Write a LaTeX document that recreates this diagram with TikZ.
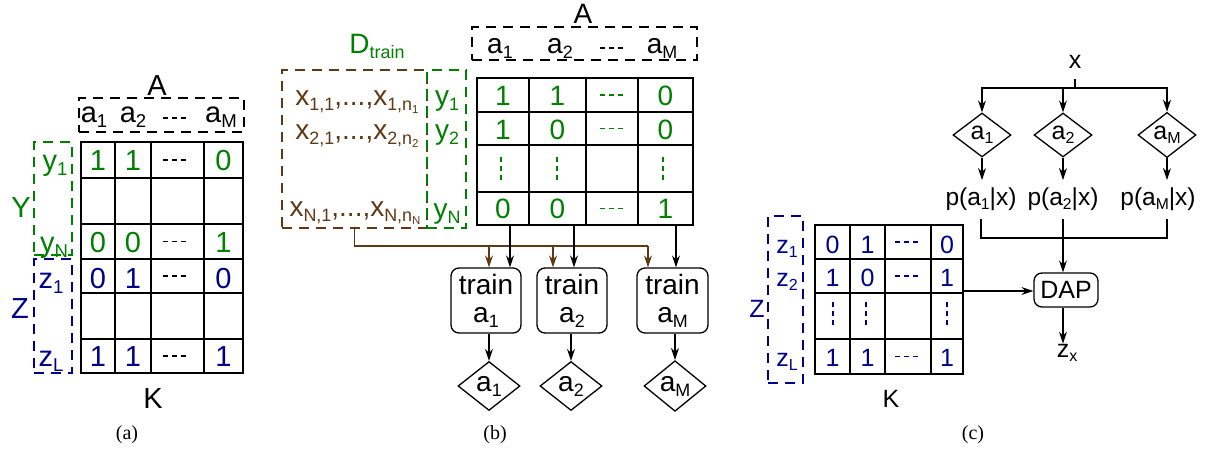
\documentclass[tikz,border=0pt]{standalone}
\usepackage{fontspec}
\setmainfont{Liberation Sans}
\newfontfamily\capfont{Liberation Serif}
\usetikzlibrary{shapes.geometric,arrows.meta}
\definecolor{dgreen}{RGB}{0,128,0}
\definecolor{dblue}{RGB}{0,0,139}
\definecolor{dbrown}{RGB}{96,56,19}
\newcommand{\sizeA}{\fontsize{29}{32}\selectfont}
\newcommand{\sizeB}{\fontsize{28}{28}\selectfont}
\newcommand{\sizeC}{\fontsize{25}{28}\selectfont}
\newcommand{\sizeP}{\fontsize{24.5}{28}\selectfont}
\newcommand{\idx}[1]{\raisebox{-0.18em}{\fontsize{\the\dimexpr0.64\fontdimen6\font\relax}{0pt}\selectfont #1}}
\tikzset{
  lbl/.style={inner sep=0pt, anchor=base},
  dbox/.style={draw, dash pattern=on 10pt off 7pt, line width=1.3pt, inner sep=0pt},
  gridline/.style={line width=2pt},
  ellip/.style={line width=1.5pt, dash pattern=on 5pt off 4pt},
  link/.style={line width=1.3pt},
  conn/.style={link, -{Stealth[length=12pt,width=8pt]}},
  dec/.style={diamond, draw, line width=1.3pt, inner sep=0pt},
  proc/.style={draw, rounded corners=8pt, line width=1.3pt, inner sep=0pt, align=center},
  capt/.style={inner sep=0pt, anchor=base, font=\capfont\fontsize{20}{22}\selectfont}
}

\begin{document}
\begin{tikzpicture}[x=1pt,y=-1pt]
  \useasboundingbox (0,0) rectangle (1215,453);

  % (a)
  \node[lbl, font=\sizeA] (aA) at (157,95) {A};
  \node[dbox, minimum width=165pt, minimum height=34pt] (ahdr) at (161.5,115) {};
  \node[lbl, font=\sizeA] (aa1) at (94,122) {a\idx{1}};
  \node[lbl, font=\sizeA] (aa2) at (133,122) {a\idx{2}};
  \node[lbl, font=\sizeA] (aaM) at (221,122) {a\idx{M}};
  \draw[ellip] (163,118) -- (187,118);

  \draw[gridline] (81,142) rectangle (243,373);
  \foreach \x in {115,151,204} \draw[gridline] (\x,142) -- (\x,373);
  \foreach \y in {178,224,259,293,339} \draw[gridline] (81,\y) -- (243,\y);

  \node[dbox, draw=dgreen, minimum width=38pt, minimum height=113pt] (aybox) at (53,198.5) {};
  \node[dbox, draw=dblue, minimum width=38pt, minimum height=114pt] (azbox) at (53,316) {};
  \node[lbl, font=\sizeA, text=dgreen] (aY) at (21,217) {Y};
  \node[lbl, font=\sizeA, text=dblue] (aZ) at (20,318) {Z};
  \node[lbl, font=\sizeA, text=dgreen] (ay1) at (55,170) {y\idx{1}};
  \node[lbl, font=\sizeA, text=dgreen] (ayN) at (54,252) {y\idx{N}};
  \node[lbl, font=\sizeA, text=dblue] (az1) at (51,288) {z\idx{1}};
  \node[lbl, font=\sizeA, text=dblue] (azL) at (51,366) {z\idx{L}};

  \foreach \v/\x/\n in {1/98/1,1/133/2,0/223.5/M}
    \node[lbl, font=\sizeA, text=dgreen] (ar1\n) at (\x,170) {\v};
  \foreach \v/\x/\n in {0/98/1,0/133/2,1/223.5/M}
    \node[lbl, font=\sizeA, text=dgreen] (arN\n) at (\x,252) {\v};
  \foreach \v/\x/\n in {0/98/1,1/133/2,0/223.5/M}
    \node[lbl, font=\sizeA, text=dblue] (as1\n) at (\x,288) {\v};
  \foreach \v/\x/\n in {1/98/1,1/133/2,1/223.5/M}
    \node[lbl, font=\sizeA, text=dblue] (asL\n) at (\x,366) {\v};
  \foreach \y in {160,241.5,276,356} \draw[ellip] (163,\y) -- (187,\y);

  \node[lbl, font=\sizeA] (aK) at (153,408) {K};
  \node[capt] (capa) at (127,439) {(a)};

  % (b)
  \node[lbl, font=\sizeB] (bA) at (583,23) {A};
  \node[dbox, minimum width=225pt, minimum height=33pt] (bhdr) at (584.5,43.5) {};
  \node[lbl, font=\sizeB] (ba1) at (500,53) {a\idx{1}};
  \node[lbl, font=\sizeB] (ba2) at (560,53) {a\idx{2}};
  \node[lbl, font=\sizeB] (baM) at (662,53) {a\idx{M}};
  \draw[ellip] (600,48) -- (623,48);

  \node[lbl, font=\sizeB, text=dgreen] (dtrain) at (377,53) {D\idx{train}};
  \node[dbox, draw=dbrown, minimum width=145pt, minimum height=158pt] (xbox) at (354.5,149) {};
  \node[dbox, draw=dgreen, minimum width=39pt, minimum height=158pt] (ybox) at (446.5,149) {};
  \node[lbl, font=\sizeB, text=dbrown] (x1) at (357,105) {x\idx{1,1},...,x\idx{1,n\idx{1}}};
  \node[lbl, font=\sizeB, text=dbrown] (x2) at (357,139) {x\idx{2,1},...,x\idx{2,n\idx{2}}};
  \node[lbl, font=\sizeB, text=dbrown] (xN) at (355,216) {x\idx{N,1},...,x\idx{N,n\idx{N}}};
  \node[lbl, font=\sizeB, text=dgreen] (by1) at (447,105) {y\idx{1}};
  \node[lbl, font=\sizeB, text=dgreen] (by2) at (447,139) {y\idx{2}};
  \node[lbl, font=\sizeB, text=dgreen] (byN) at (447,218) {y\idx{N}};

  \draw[gridline] (477,78) rectangle (693,225);
  \foreach \x in {529,586,638} \draw[gridline] (\x,78) -- (\x,225);
  \foreach \y in {112,145,192} \draw[gridline] (477,\y) -- (693,\y);

  \foreach \v/\x/\n in {1/503/1,1/557.5/2,0/665.5/M}
    \node[lbl, font=\sizeB, text=dgreen] (br1\n) at (\x,105) {\v};
  \foreach \v/\x/\n in {1/503/1,0/557.5/2,0/665.5/M}
    \node[lbl, font=\sizeB, text=dgreen] (br2\n) at (\x,139) {\v};
  \foreach \v/\x/\n in {0/503/1,0/557.5/2,1/665.5/M}
    \node[lbl, font=\sizeB, text=dgreen] (brN\n) at (\x,218) {\v};
  \foreach \y in {95,128.5,208.5} \draw[ellip, dgreen] (600,\y) -- (626,\y);
  \foreach \x in {501,557,663} \draw[ellip, dgreen] (\x,157) -- (\x,182);

  \node[proc, minimum width=70pt, minimum height=65pt, font=\sizeB] (tr1) at (486,300.5) {train\\a\idx{1}};
  \node[proc, minimum width=70pt, minimum height=65pt, font=\sizeB] (tr2) at (572,300.5) {train\\a\idx{2}};
  \node[proc, minimum width=71pt, minimum height=65pt, font=\sizeB] (tr3) at (672.5,300.5) {train\\a\idx{M}};
  \node[dec, minimum width=62pt, minimum height=49pt, font=\sizeB] (bd1) at (489,386) {a\idx{1}};
  \node[dec, minimum width=62pt, minimum height=49pt, font=\sizeB] (bd2) at (571,386) {a\idx{2}};
  \node[dec, minimum width=62pt, minimum height=49pt, font=\sizeB] (bd3) at (675,386) {a\idx{M}};

  \coordinate (bj1) at (489,246);
  \coordinate (bj2) at (553,246);
  \coordinate (bj3) at (648,246);
  \coordinate (gb1) at (510,225);
  \coordinate (gb2) at (574,225);
  \coordinate (gb3) at (676,225);
  \draw[link, draw=dbrown] (xbox.south) |- (bj3);
  \foreach \i in {1,2,3} {
    \draw[conn, draw=dbrown] (bj\i) -- (bj\i |- tr\i.north);
    \draw[conn] (gb\i) -- (gb\i |- tr\i.north);
    \draw[conn] (bd\i |- tr\i.south) -- (bd\i.north);
  }
  \node[capt] (capb) at (495,439) {(b)};

  % (c)
  \node[lbl, font=\sizeC] (cx) at (1075,68) {x};
  \coordinate (xsplit) at (1075,88);
  \node[dec, minimum width=58pt, minimum height=44pt, font=\sizeC] (cd1) at (982,135) {a\idx{1}};
  \node[dec, minimum width=58pt, minimum height=44pt, font=\sizeC] (cd2) at (1063,135) {a\idx{2}};
  \node[dec, minimum width=58pt, minimum height=44pt, font=\sizeC] (cdM) at (1167,135) {a\idx{M}};
  \node[lbl, font=\sizeP] (p1) at (981,205) {p(a\idx{1}|x)};
  \node[lbl, font=\sizeP] (p2) at (1063,205) {p(a\idx{2}|x)};
  \node[lbl, font=\sizeP] (pM) at (1158,205) {p(a\idx{M}|x)};
  \coordinate (pjoin) at (1063,238);
  \node[proc, minimum width=64pt, minimum height=34pt, font=\sizeC] (dap) at (1066,290) {DAP};
  \node[lbl, font=\sizeC] (zx) at (1067,357) {z\idx{x}};

  \draw[link, shorten <=11pt] (cx.south) -- (xsplit);
  \draw[conn] (xsplit) -| (cd1.north);
  \draw[conn] (xsplit) -| (cd2.north);
  \draw[conn] (xsplit) -| (cdM.north);
  \draw[conn, shorten >=7pt] (cd1.south) -- (cd1.south |- p1.north);
  \draw[conn, shorten >=7pt] (cd2.south) -- (cd2.south |- p2.north);
  \draw[conn, shorten >=7pt] (cdM.south) -- (cdM.south |- pM.north);
  \draw[link, shorten <=9pt] (p1.south) |- (pjoin);
  \draw[link, shorten <=9pt] (cdM |- pM.south) |- (pjoin);
  \draw[conn, shorten <=9pt] (p2.south) -- (p2.south |- dap.north);
  \draw[conn] (p2 |- dap.south) -- (p2 |- zx.north);

  \draw[gridline] (815,225) rectangle (963,374);
  \foreach \x in {850,885,931} \draw[gridline] (\x,225) -- (\x,374);
  \foreach \y in {259,293,339} \draw[gridline] (815,\y) -- (963,\y);

  \node[dbox, draw=dblue, minimum width=35pt, minimum height=167pt] (czbox) at (785.5,299.5) {};
  \node[lbl, font=\sizeC, text=dblue] (cZ) at (757,317) {Z};
  \node[lbl, font=\sizeC, text=dblue] (cz1) at (787,253) {z\idx{1}};
  \node[lbl, font=\sizeC, text=dblue] (cz2) at (787,286) {z\idx{2}};
  \node[lbl, font=\sizeC, text=dblue] (czL) at (787,366) {z\idx{L}};

  \foreach \v/\x/\n in {0/832.5/1,1/867.5/2,0/947/M}
    \node[lbl, font=\sizeC, text=dblue] (cr1\n) at (\x,253) {\v};
  \foreach \v/\x/\n in {1/832.5/1,0/867.5/2,1/947/M}
    \node[lbl, font=\sizeC, text=dblue] (cr2\n) at (\x,286) {\v};
  \foreach \v/\x/\n in {1/832.5/1,1/867.5/2,1/947/M}
    \node[lbl, font=\sizeC, text=dblue] (crL\n) at (\x,366) {\v};
  \foreach \y in {242,276,356.5} \draw[ellip, dblue] (895,\y) -- (918,\y);
  \foreach \x in {833,866,947} \draw[ellip, dblue] (\x,302) -- (\x,328);

  \coordinate (kout) at (963,291);
  \draw[conn] (kout) -- (kout -| dap.west);

  \node[lbl, font=\sizeC] (cK) at (891,407) {K};
  \node[capt] (capc) at (973,439) {(c)};
\end{tikzpicture}
\end{document}
